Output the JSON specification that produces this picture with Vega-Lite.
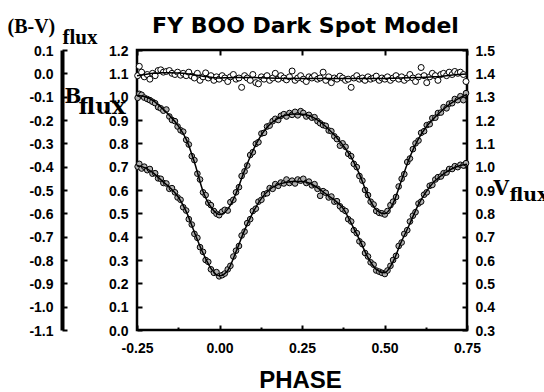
{
"$schema": "https://vega.github.io/schema/vega-lite/v6.json",
"width": 330, "height": 280,
"autosize": {"type": "none"},
"padding": {"left": 137, "top": 50, "right": 77, "bottom": 62},
"background": "white",
"config": {
  "locale": {"number": {"decimal": ".", "thousands": ",", "grouping": [3], "currency": ["$", ""], "minus": "-"}},
  "view": {"stroke": "black", "strokeWidth": 2.5},
  "axis": {"grid": false, "labelFont": "Liberation Sans", "labelFontWeight": "bold", "labelFontSize": 14, "labelColor": "black", "tickColor": "black", "domainColor": "black", "tickWidth": 2, "titleColor": "black", "labelFlush": false, "labelOverlap": false}
},
"datasets": {
"obs": [
{"phase":-0.248,"b":0.995,"v":1.0,"bv":-0.01},
{"phase":-0.243,"b":1.012,"v":1.012,"bv":0.03},
{"phase":-0.236,"b":1.008,"v":0.992,"bv":0.005},
{"phase":-0.228,"b":0.996,"v":1.0,"bv":-0.015},
{"phase":-0.219,"b":0.99,"v":0.985,"bv":-0.005},
{"phase":-0.211,"b":0.985,"v":0.99,"bv":-0.025},
{"phase":-0.203,"b":0.978,"v":0.97,"bv":0.0},
{"phase":-0.195,"b":0.972,"v":0.972,"bv":-0.01},
{"phase":-0.186,"b":0.955,"v":0.95,"bv":0.012},
{"phase":-0.178,"b":0.95,"v":0.948,"bv":0.015},
{"phase":-0.17,"b":0.94,"v":0.93,"bv":0.005},
{"phase":-0.161,"b":0.945,"v":0.928,"bv":0.008},
{"phase":-0.152,"b":0.915,"v":0.905,"bv":0.012},
{"phase":-0.144,"b":0.9,"v":0.908,"bv":0.0},
{"phase":-0.135,"b":0.895,"v":0.89,"bv":-0.005},
{"phase":-0.127,"b":0.872,"v":0.868,"bv":0.005},
{"phase":-0.118,"b":0.856,"v":0.858,"bv":-0.008},
{"phase":-0.11,"b":0.85,"v":0.826,"bv":0.0},
{"phase":-0.101,"b":0.815,"v":0.812,"bv":-0.01},
{"phase":-0.093,"b":0.795,"v":0.775,"bv":0.005},
{"phase":-0.084,"b":0.745,"v":0.752,"bv":-0.012},
{"phase":-0.076,"b":0.728,"v":0.712,"bv":-0.02},
{"phase":-0.067,"b":0.67,"v":0.695,"bv":0.0},
{"phase":-0.059,"b":0.645,"v":0.655,"bv":-0.03},
{"phase":-0.05,"b":0.59,"v":0.635,"bv":-0.015},
{"phase":-0.042,"b":0.578,"v":0.6,"bv":0.002},
{"phase":-0.034,"b":0.545,"v":0.592,"bv":-0.02},
{"phase":-0.026,"b":0.535,"v":0.56,"bv":-0.01},
{"phase":-0.017,"b":0.51,"v":0.545,"bv":-0.03},
{"phase":-0.009,"b":0.498,"v":0.548,"bv":-0.015},
{"phase":-0.001,"b":0.492,"v":0.53,"bv":-0.025},
{"phase":0.008,"b":0.507,"v":0.535,"bv":-0.01},
{"phase":0.016,"b":0.515,"v":0.542,"bv":-0.02},
{"phase":0.025,"b":0.512,"v":0.56,"bv":-0.035},
{"phase":0.033,"b":0.548,"v":0.575,"bv":-0.015},
{"phase":0.042,"b":0.558,"v":0.615,"bv":-0.005},
{"phase":0.05,"b":0.59,"v":0.64,"bv":-0.025},
{"phase":0.059,"b":0.612,"v":0.66,"bv":-0.02},
{"phase":0.067,"b":0.66,"v":0.705,"bv":-0.06},
{"phase":0.076,"b":0.68,"v":0.722,"bv":-0.01},
{"phase":0.084,"b":0.705,"v":0.758,"bv":-0.02},
{"phase":0.093,"b":0.75,"v":0.775,"bv":-0.03},
{"phase":0.101,"b":0.762,"v":0.81,"bv":-0.005},
{"phase":0.11,"b":0.798,"v":0.82,"bv":-0.04},
{"phase":0.118,"b":0.805,"v":0.85,"bv":-0.045},
{"phase":0.127,"b":0.842,"v":0.858,"bv":-0.015},
{"phase":0.135,"b":0.845,"v":0.882,"bv":-0.025},
{"phase":0.144,"b":0.872,"v":0.886,"bv":-0.01},
{"phase":0.152,"b":0.876,"v":0.908,"bv":-0.03},
{"phase":0.161,"b":0.895,"v":0.905,"bv":-0.02},
{"phase":0.169,"b":0.905,"v":0.925,"bv":0.0},
{"phase":0.178,"b":0.9,"v":0.918,"bv":-0.025},
{"phase":0.186,"b":0.918,"v":0.932,"bv":-0.01},
{"phase":0.195,"b":0.925,"v":0.928,"bv":-0.02},
{"phase":0.203,"b":0.915,"v":0.945,"bv":-0.028},
{"phase":0.212,"b":0.93,"v":0.93,"bv":-0.015},
{"phase":0.22,"b":0.922,"v":0.94,"bv":0.01},
{"phase":0.229,"b":0.935,"v":0.928,"bv":-0.03},
{"phase":0.237,"b":0.92,"v":0.945,"bv":-0.02},
{"phase":0.246,"b":0.938,"v":0.94,"bv":-0.01},
{"phase":0.254,"b":0.93,"v":0.948,"bv":-0.025},
{"phase":0.263,"b":0.915,"v":0.93,"bv":-0.035},
{"phase":0.271,"b":0.922,"v":0.936,"bv":-0.015},
{"phase":0.28,"b":0.91,"v":0.92,"bv":-0.02},
{"phase":0.288,"b":0.912,"v":0.925,"bv":-0.01},
{"phase":0.297,"b":0.895,"v":0.905,"bv":-0.025},
{"phase":0.305,"b":0.886,"v":0.875,"bv":-0.02},
{"phase":0.314,"b":0.878,"v":0.895,"bv":0.005},
{"phase":0.322,"b":0.875,"v":0.888,"bv":-0.03},
{"phase":0.331,"b":0.855,"v":0.868,"bv":-0.015},
{"phase":0.339,"b":0.852,"v":0.872,"bv":-0.04},
{"phase":0.348,"b":0.83,"v":0.85,"bv":-0.02},
{"phase":0.356,"b":0.818,"v":0.852,"bv":-0.025},
{"phase":0.365,"b":0.79,"v":0.83,"bv":-0.012},
{"phase":0.373,"b":0.8,"v":0.818,"bv":-0.02},
{"phase":0.382,"b":0.785,"v":0.81,"bv":-0.03},
{"phase":0.39,"b":0.755,"v":0.775,"bv":-0.025},
{"phase":0.399,"b":0.745,"v":0.765,"bv":-0.06},
{"phase":0.407,"b":0.712,"v":0.728,"bv":-0.02},
{"phase":0.416,"b":0.698,"v":0.715,"bv":-0.01},
{"phase":0.424,"b":0.66,"v":0.68,"bv":-0.025},
{"phase":0.433,"b":0.64,"v":0.668,"bv":-0.02},
{"phase":0.441,"b":0.6,"v":0.63,"bv":-0.03},
{"phase":0.45,"b":0.578,"v":0.615,"bv":-0.015},
{"phase":0.458,"b":0.55,"v":0.59,"bv":-0.025},
{"phase":0.467,"b":0.538,"v":0.58,"bv":-0.02},
{"phase":0.475,"b":0.51,"v":0.555,"bv":-0.012},
{"phase":0.484,"b":0.502,"v":0.55,"bv":-0.03},
{"phase":0.492,"b":0.5,"v":0.545,"bv":-0.02},
{"phase":0.501,"b":0.495,"v":0.54,"bv":-0.025},
{"phase":0.509,"b":0.51,"v":0.555,"bv":-0.015},
{"phase":0.518,"b":0.535,"v":0.575,"bv":-0.03},
{"phase":0.526,"b":0.55,"v":0.6,"bv":-0.02},
{"phase":0.535,"b":0.57,"v":0.618,"bv":-0.01},
{"phase":0.543,"b":0.615,"v":0.66,"bv":-0.025},
{"phase":0.552,"b":0.648,"v":0.675,"bv":-0.015},
{"phase":0.56,"b":0.668,"v":0.712,"bv":-0.03},
{"phase":0.569,"b":0.72,"v":0.728,"bv":-0.02},
{"phase":0.577,"b":0.735,"v":0.765,"bv":-0.005},
{"phase":0.586,"b":0.775,"v":0.79,"bv":-0.02},
{"phase":0.594,"b":0.8,"v":0.805,"bv":-0.035},
{"phase":0.603,"b":0.812,"v":0.842,"bv":-0.015},
{"phase":0.611,"b":0.845,"v":0.85,"bv":0.025},
{"phase":0.62,"b":0.852,"v":0.88,"bv":-0.01},
{"phase":0.628,"b":0.878,"v":0.89,"bv":-0.04},
{"phase":0.637,"b":0.882,"v":0.918,"bv":-0.015},
{"phase":0.645,"b":0.908,"v":0.922,"bv":0.0},
{"phase":0.654,"b":0.91,"v":0.945,"bv":-0.01},
{"phase":0.662,"b":0.93,"v":0.955,"bv":-0.03},
{"phase":0.671,"b":0.932,"v":0.958,"bv":-0.005},
{"phase":0.679,"b":0.955,"v":0.972,"bv":0.0},
{"phase":0.688,"b":0.95,"v":0.975,"bv":-0.01},
{"phase":0.696,"b":0.97,"v":0.99,"bv":0.005},
{"phase":0.705,"b":0.972,"v":0.99,"bv":-0.005},
{"phase":0.713,"b":0.99,"v":1.002,"bv":0.008},
{"phase":0.722,"b":0.985,"v":0.998,"bv":0.0},
{"phase":0.73,"b":1.002,"v":1.008,"bv":0.005},
{"phase":0.739,"b":0.985,"v":1.005,"bv":-0.005},
{"phase":0.747,"b":1.015,"v":1.015,"bv":-0.035}
],
"model": [
{"phase":-0.25,"b":1.005,"v":1.005,"bv":-0.01},
{"phase":-0.225,"b":1.0,"v":0.995,"bv":-0.005},
{"phase":-0.2,"b":0.982,"v":0.972,"bv":0.0},
{"phase":-0.175,"b":0.952,"v":0.94,"bv":0.002},
{"phase":-0.15,"b":0.917,"v":0.91,"bv":0.003},
{"phase":-0.125,"b":0.875,"v":0.87,"bv":0.001},
{"phase":-0.1,"b":0.815,"v":0.805,"bv":-0.002},
{"phase":-0.075,"b":0.715,"v":0.715,"bv":-0.007},
{"phase":-0.05,"b":0.595,"v":0.63,"bv":-0.012},
{"phase":-0.025,"b":0.525,"v":0.562,"bv":-0.017},
{"phase":0.0,"b":0.495,"v":0.532,"bv":-0.02},
{"phase":0.025,"b":0.518,"v":0.555,"bv":-0.019},
{"phase":0.05,"b":0.585,"v":0.635,"bv":-0.018},
{"phase":0.075,"b":0.68,"v":0.725,"bv":-0.018},
{"phase":0.1,"b":0.765,"v":0.8,"bv":-0.018},
{"phase":0.125,"b":0.832,"v":0.86,"bv":-0.019},
{"phase":0.15,"b":0.878,"v":0.9,"bv":-0.02},
{"phase":0.175,"b":0.905,"v":0.922,"bv":-0.021},
{"phase":0.2,"b":0.92,"v":0.932,"bv":-0.022},
{"phase":0.225,"b":0.926,"v":0.936,"bv":-0.022},
{"phase":0.25,"b":0.925,"v":0.936,"bv":-0.022},
{"phase":0.275,"b":0.917,"v":0.928,"bv":-0.022},
{"phase":0.3,"b":0.897,"v":0.907,"bv":-0.022},
{"phase":0.325,"b":0.868,"v":0.88,"bv":-0.022},
{"phase":0.35,"b":0.832,"v":0.855,"bv":-0.022},
{"phase":0.375,"b":0.79,"v":0.82,"bv":-0.022},
{"phase":0.4,"b":0.738,"v":0.755,"bv":-0.022},
{"phase":0.425,"b":0.665,"v":0.685,"bv":-0.022},
{"phase":0.45,"b":0.575,"v":0.61,"bv":-0.022},
{"phase":0.475,"b":0.515,"v":0.56,"bv":-0.022},
{"phase":0.5,"b":0.498,"v":0.545,"bv":-0.022},
{"phase":0.525,"b":0.54,"v":0.59,"bv":-0.021},
{"phase":0.55,"b":0.635,"v":0.675,"bv":-0.02},
{"phase":0.575,"b":0.735,"v":0.75,"bv":-0.019},
{"phase":0.6,"b":0.812,"v":0.83,"bv":-0.018},
{"phase":0.625,"b":0.868,"v":0.89,"bv":-0.017},
{"phase":0.65,"b":0.908,"v":0.935,"bv":-0.015},
{"phase":0.675,"b":0.942,"v":0.965,"bv":-0.012},
{"phase":0.7,"b":0.97,"v":0.988,"bv":-0.008},
{"phase":0.725,"b":0.993,"v":1.003,"bv":-0.005},
{"phase":0.75,"b":1.01,"v":1.01,"bv":-0.003}
]
},
"resolve": {"scale": {"y": "independent"}, "axis": {"x": "independent", "y": "independent"}},
"layer": [
{"data": {"name": "obs"},
 "mark": {"type": "point", "filled": true, "fill": "#b0b0b0", "stroke": "black", "strokeWidth": 1, "size": 32, "opacity": 1},
 "encoding": {
  "x": {"field": "phase", "type": "quantitative", "scale": {"domain": [-0.25, 0.75], "nice": false, "zero": false},
        "axis": {"orient": "bottom", "values": [-0.25, 0, 0.25, 0.5, 0.75], "format": ".2f", "tickSize": -5, "labelPadding": 16, "domain": false,
                 "title": "PHASE", "titleX": 163, "titleY": 57, "titleAlign": "center", "titleBaseline": "alphabetic", "titleFont": "Liberation Sans", "titleFontWeight": "bold", "titleFontSize": 24}},
  "y": {"field": "b", "type": "quantitative", "scale": {"domain": [0, 1.2], "nice": false, "zero": false},
        "axis": {"orient": "left", "values": [0, 0.1, 0.2, 0.3, 0.4, 0.5, 0.6, 0.7, 0.8, 0.9, 1.0, 1.1, 1.2], "format": ".1f", "tickSize": -5, "labelPadding": 14, "labelOffset": 1, "domain": false,
                 "title": "B", "titleX": -73, "titleY": 52, "titleAngle": 0, "titleAlign": "left", "titleBaseline": "alphabetic", "titleFont": "DejaVu Serif", "titleFontWeight": "bold", "titleFontSize": 20}}
 }},
{"data": {"name": "model"},
 "mark": {"type": "line", "color": "black", "strokeWidth": 1.5, "interpolate": "monotone"},
 "encoding": {
  "x": {"field": "phase", "type": "quantitative", "scale": {"domain": [-0.25, 0.75], "nice": false, "zero": false},
        "axis": {"orient": "top", "ticks": false, "labels": false, "domain": false,
                 "title": "FY BOO Dark Spot Model", "titleX": 168, "titleY": -18, "titleAngle": 0, "titleAlign": "center", "titleBaseline": "alphabetic", "titleFont": "DejaVu Sans", "titleFontWeight": "bold", "titleFontSize": 22}},
  "y": {"field": "b", "type": "quantitative", "scale": {"domain": [0, 1.2], "nice": false, "zero": false}, "axis": null}
 }},
{"data": {"name": "obs"},
 "mark": {"type": "point", "filled": true, "fill": "#b0b0b0", "stroke": "black", "strokeWidth": 1, "size": 32, "opacity": 1},
 "encoding": {
  "x": {"field": "phase", "type": "quantitative", "scale": {"domain": [-0.25, 0.75], "nice": false, "zero": false},
        "axis": {"orient": "top", "values": [-0.25, 0, 0.25, 0.5, 0.75], "tickSize": -5, "labels": false, "domain": false,
                 "title": "flux", "titleX": 372, "titleY": 150, "titleAngle": 0, "titleAlign": "left", "titleBaseline": "alphabetic", "titleFont": "DejaVu Serif", "titleFontWeight": "bold", "titleFontSize": 19}},
  "y": {"field": "v", "type": "quantitative", "scale": {"domain": [0.3, 1.5], "nice": false, "zero": false},
        "axis": {"orient": "right", "values": [0.3, 0.4, 0.5, 0.6, 0.7, 0.8, 0.9, 1.0, 1.1, 1.2, 1.3, 1.4, 1.5], "format": ".1f", "tickSize": -5, "labelPadding": 13, "labelOffset": 1, "domain": false,
                 "title": "V", "titleX": 26, "titleY": 144, "titleAngle": 0, "titleAlign": "left", "titleBaseline": "alphabetic", "titleFont": "DejaVu Serif", "titleFontWeight": "bold", "titleFontSize": 20}}
 }},
{"data": {"name": "model"},
 "mark": {"type": "line", "color": "black", "strokeWidth": 1.5, "interpolate": "monotone"},
 "encoding": {
  "x": {"field": "phase", "type": "quantitative", "scale": {"domain": [-0.25, 0.75], "nice": false, "zero": false}, "axis": null},
  "y": {"field": "v", "type": "quantitative", "scale": {"domain": [0.3, 1.5], "nice": false, "zero": false}, "axis": null}
 }},
{"data": {"name": "obs"},
 "mark": {"type": "point", "filled": true, "fill": "white", "stroke": "black", "strokeWidth": 1, "size": 36, "opacity": 1},
 "encoding": {
  "x": {"field": "phase", "type": "quantitative", "scale": {"domain": [-0.25, 0.75], "nice": false, "zero": false},
        "axis": {"orient": "bottom", "values": [-0.125, 0.125, 0.375, 0.625], "tickSize": -3, "labels": false, "domain": false,
                 "title": "flux", "titleX": -59, "titleY": -217, "titleAngle": 0, "titleAlign": "left", "titleBaseline": "alphabetic", "titleFont": "DejaVu Serif", "titleFontWeight": "bold", "titleFontSize": 23}},
  "y": {"field": "bv", "type": "quantitative", "scale": {"domain": [-1.1, 0.1], "nice": false, "zero": false},
        "axis": {"orient": "left", "offset": 75, "values": [-1.1, -1.0, -0.9, -0.8, -0.7, -0.6, -0.5, -0.4, -0.3, -0.2, -0.1, 0.0, 0.1], "format": ".1f", "tickSize": -5, "labelPadding": 14, "labelOffset": 1, "domain": true, "domainWidth": 4,
                 "title": "(B-V)", "titleX": -55, "titleY": -18, "titleAngle": 0, "titleAlign": "left", "titleBaseline": "alphabetic", "titleFont": "Liberation Serif", "titleFontWeight": "bold", "titleFontSize": 20}}
 }},
{"data": {"name": "model"},
 "mark": {"type": "line", "color": "black", "strokeWidth": 1.5, "interpolate": "monotone"},
 "encoding": {
  "x": {"field": "phase", "type": "quantitative", "scale": {"domain": [-0.25, 0.75], "nice": false, "zero": false},
        "axis": {"orient": "top", "ticks": false, "labels": false, "domain": false,
                 "title": "flux", "titleX": -75, "titleY": -7, "titleAngle": 0, "titleAlign": "left", "titleBaseline": "alphabetic", "titleFont": "Liberation Serif", "titleFontWeight": "bold", "titleFontSize": 21}},
  "y": {"field": "bv", "type": "quantitative", "scale": {"domain": [-1.1, 0.1], "nice": false, "zero": false}, "axis": null}
 }}
]
}
